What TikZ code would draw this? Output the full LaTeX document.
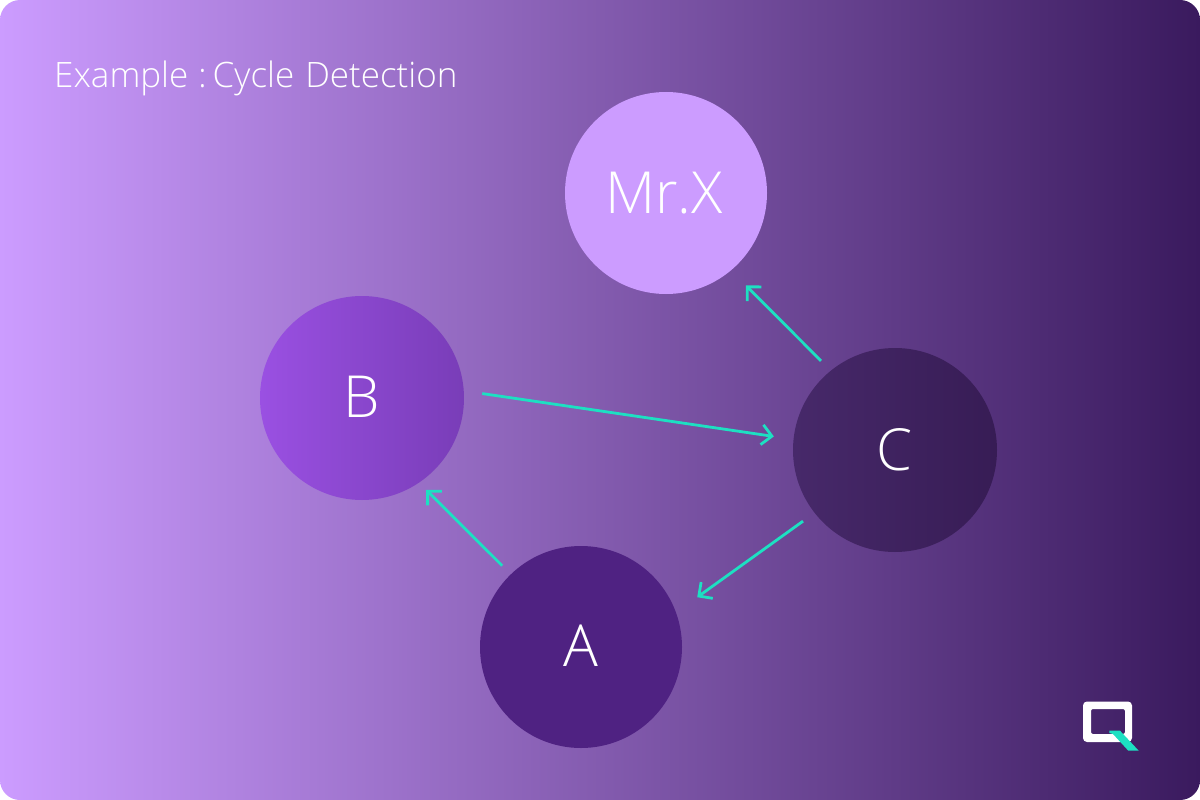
\documentclass[tikz,border=0pt]{standalone}
\usepackage{fontspec}
\setmainfont{Open Sans Light}[Ligatures=NoCommon]
\usetikzlibrary{arrows.meta}
\definecolor{linkteal}{HTML}{1DE0C2}
\definecolor{bgleft}{HTML}{CC9CFF}
\definecolor{bgright}{HTML}{3A1A5E}
\definecolor{nodeX}{HTML}{CC9CFF}
\definecolor{nodeA}{HTML}{4F2282}
\definecolor{nodeBl}{HTML}{9A50E2}
\definecolor{nodeBr}{HTML}{793DB8}
\definecolor{nodeCl}{HTML}{47296A}
\definecolor{nodeCr}{HTML}{371C55}
\tikzset{
  x=1pt,y=-1pt,
  vertex/.style={circle,minimum size=#1,inner sep=0pt,text=white,font=\fontsize{58}{58}\selectfont},
  link/.style={draw=linkteal,line width=2.8pt,-{Straight Barb[length=10pt,width=20pt,line width=2.8pt]}},
}
\begin{document}
\begin{tikzpicture}
\useasboundingbox (0,0) rectangle (1200,800);
\fill[white] (0,0) rectangle (1200,800);
\shade[left color=bgleft,right color=bgright,rounded corners=20pt] (0,0) rectangle (1200,800);
\node[anchor=base west,inner sep=0pt,text=white,font=\fontsize{35}{36}\selectfont] (title) at (54,87.5) {\spaceskip=6pt Example\kern4pt{} :\kern-3pt{} Cycle\kern5pt{} Detection};
\node[vertex=202pt,fill=nodeX] (X) at (666,193) {Mr.X\kern4pt};
\node[vertex=204pt,left color=nodeBl,right color=nodeBr] (B) at (362,398) {\raisebox{1.5pt}{B}};
\node[vertex=204pt,left color=nodeCl,right color=nodeCr] (C) at (895,450) {\raisebox{2pt}{C}};
\node[vertex=202pt,fill=nodeA] (A) at (581,647) {\raisebox{2pt}{A}};
\draw[link,shorten <=18.5pt,shorten >=19.7pt] (B.4.36) -- (C.174.34);
\draw[link,shorten <=13.8pt,shorten >=21.1pt] (C.129) -- (X.-50.7);
\draw[link,shorten <=14.1pt,shorten >=26pt] (C.218.8) -- (A.20.3);
\draw[link,shorten <=12pt,shorten >=10pt] (A.134.2) -- (B.-56.2);
\fill[white,even odd rule] [rounded corners=4pt] (1083,701.5) rectangle (1132,742) [rounded corners=2pt] (1091,709) rectangle (1125,734);
\fill[linkteal] (1109.3,730.7) -- (1120,730.7) -- (1138.7,750.7) -- (1128.3,750.7) -- (1113,734) -- (1109.3,733) -- cycle;
\end{tikzpicture}
\end{document}
